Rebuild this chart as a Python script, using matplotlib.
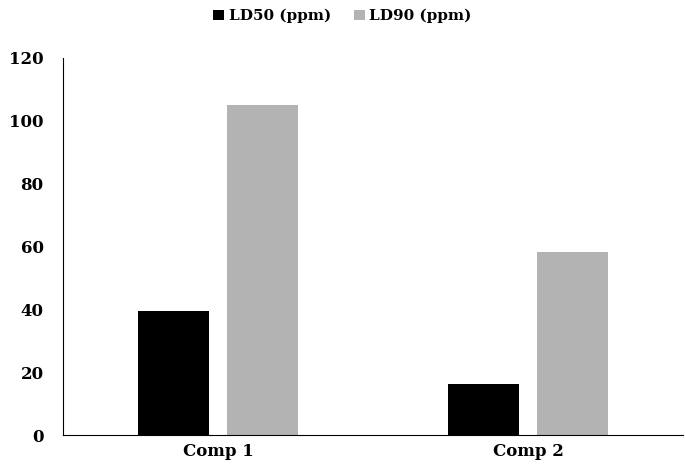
import matplotlib
matplotlib.use("Agg")
import matplotlib.pyplot as plt
import numpy as np

compounds = ["Comp 1", "Comp 2"]
ld50 = [39.5, 16.2]
ld90 = [105.0, 58.3]

plt.rcParams['font.family'] = ['DejaVu Serif']
plt.rcParams['font.weight'] = 'bold'

fig = plt.figure(figsize=(6.85, 4.74), dpi=100)
ax = fig.add_axes([0.092, 0.082, 0.905, 0.796])

x = np.arange(len(compounds))
w = 0.229
ax.bar(x - 0.143, ld50, w, color='black', label='LD50 (ppm)')
ax.bar(x + 0.143, ld90, w, color='#b3b3b3', label='LD90 (ppm)')

ax.set_xlim(-0.5, 1.5)
ax.set_ylim(0, 120)
ax.set_yticks(range(0, 121, 20))
ax.set_xticks(x)
ax.set_xticklabels(compounds, fontsize=12, fontweight='bold')
ax.tick_params(axis='y', length=0, labelsize=12, pad=14)
ax.tick_params(axis='x', length=0, labelsize=12, pad=6)
for s in ['top', 'right']:
    ax.spines[s].set_visible(False)

fig.legend(loc='upper center', bbox_to_anchor=(0.5, 1.01), ncol=2, frameon=False,
           fontsize=11, handlelength=0.7, handleheight=0.7, columnspacing=1.5,
           handletextpad=0.3, prop={'weight': 'bold', 'size': 11})

fig.savefig("out.png", dpi=100)
